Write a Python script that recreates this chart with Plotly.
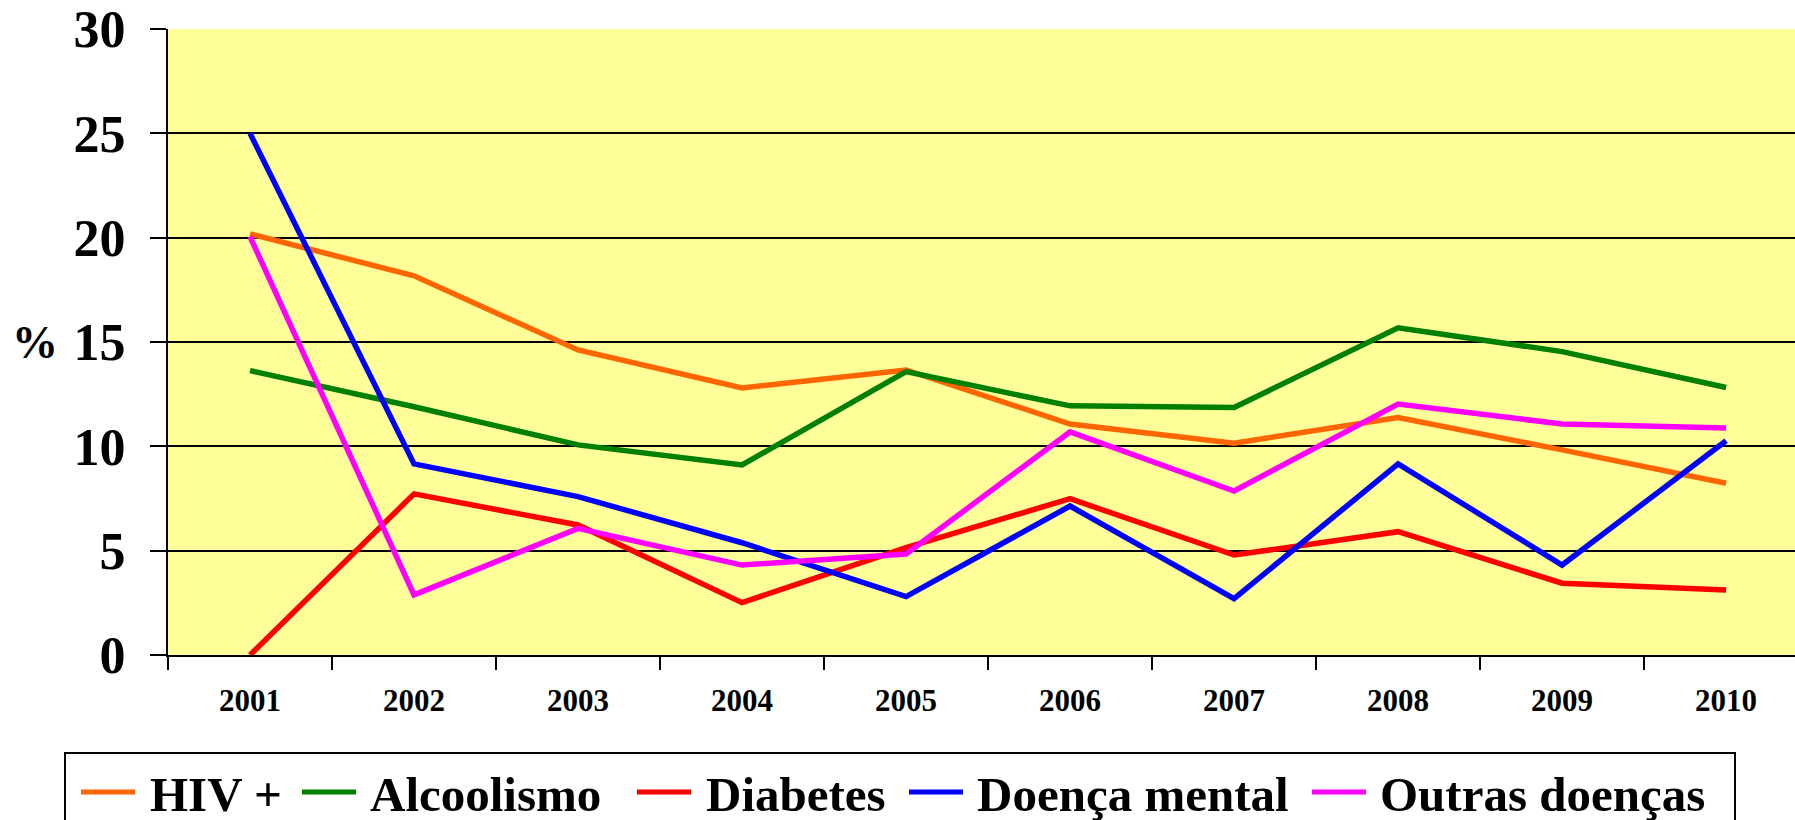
import plotly.graph_objects as go

# data
years = ["2001", "2002", "2003", "2004", "2005", "2006", "2007", "2008", "2009", "2010"]
hiv = [20.18, 18.17, 14.62, 12.8, 13.66, 11.07, 10.15, 11.38, 9.83, 8.23]
alcoolismo = [13.63, 11.9, 10.07, 9.11, 13.58, 11.94, 11.86, 15.68, 14.54, 12.82]
diabetes = [0.0, 7.72, 6.23, 2.51, 5.15, 7.49, 4.79, 5.91, 3.44, 3.12]
doenca_mental = [25.0, 9.16, 7.59, 5.38, 2.8, 7.14, 2.7, 9.16, 4.31, 10.27]
outras = [20.05, 2.88, 6.07, 4.31, 4.84, 10.69, 7.86, 12.03, 11.07, 10.88]

series = [
    ("HIV +", hiv, "#FF6600"),
    ("Alcoolismo", alcoolismo, "#008000"),
    ("Diabetes", diabetes, "#FF0000"),
    ("Doença mental", doenca_mental, "#0000FF"),
    ("Outras doenças", outras, "#FF00FF"),
]

W, H = 1795, 820
L, R, T, B = 168, 0, 29, 165
SERIF = "Times New Roman, Liberation Serif, serif"


def px_x(px):
    # figure pixel -> paper x
    return (px - L) / (W - L - R)


def px_y(py):
    return (H - B - py) / (H - T - B)


fig = go.Figure()
for name, vals, color in series:
    fig.add_trace(go.Scatter(
        x=years, y=vals, mode="lines", name=name,
        line=dict(color=color, width=5.5),
    ))

# hand-made legend box so it can run off the bottom edge like the original
fig.add_shape(type="rect", xref="paper", yref="paper",
              x0=px_x(65), x1=px_x(1735), y0=px_y(860), y1=px_y(753),
              line=dict(color="black", width=2), fillcolor="white", layer="above")
sym_x = [81, 302, 637, 909, 1312]
txt_x = [148, 368, 704, 975, 1378]
leg_y = 792
for (name, _, color), sx, tx in zip(series, sym_x, txt_x):
    fig.add_shape(type="line", xref="paper", yref="paper",
                  x0=px_x(sx), x1=px_x(sx + 54), y0=px_y(leg_y), y1=px_y(leg_y),
                  line=dict(color=color, width=5), layer="above")
    fig.add_annotation(xref="paper", yref="paper", x=px_x(tx), y=px_y(leg_y + 2),
                       text=name, showarrow=False, xanchor="left", yanchor="middle",
                       font=dict(family=SERIF, size=49, color="black", weight="bold"))

fig.add_annotation(xref="paper", yref="y", x=px_x(35), y=15, text="%",
                   showarrow=False, xanchor="center", yanchor="middle",
                   font=dict(family=SERIF, size=46, color="black", weight="bold"))

fig.update_xaxes(
    type="category", range=[-0.5, 9.42],
    showline=True, linecolor="black", linewidth=2,
    ticks="outside", ticklen=13, tickwidth=2, tickcolor="black",
    tickson="boundaries", showgrid=False,
    ticklabelstandoff=17,
    tickfont=dict(family=SERIF, size=31, color="black", weight="bold"),
)
fig.update_yaxes(
    range=[0, 30], tickvals=[0, 5, 10, 15, 20, 25, 30],
    showline=True, linecolor="black", linewidth=2,
    ticks="outside", ticklen=16, tickwidth=2, tickcolor="black",
    showgrid=True, gridcolor="black", gridwidth=2, zeroline=False,
    ticklabelstandoff=14,
    tickfont=dict(family=SERIF, size=52, color="black", weight="bold"),
)

fig.update_layout(
    width=W, height=H,
    margin=dict(l=L, r=R, t=T, b=B, autoexpand=False),
    plot_bgcolor="#FFFF99", paper_bgcolor="white",
    showlegend=False,
)

# drop the default page margin so the figure sits at the window's corner
fig.write_html("out.html", config={"displayModeBar": False},
               post_script="document.body.style.margin = '0';")
